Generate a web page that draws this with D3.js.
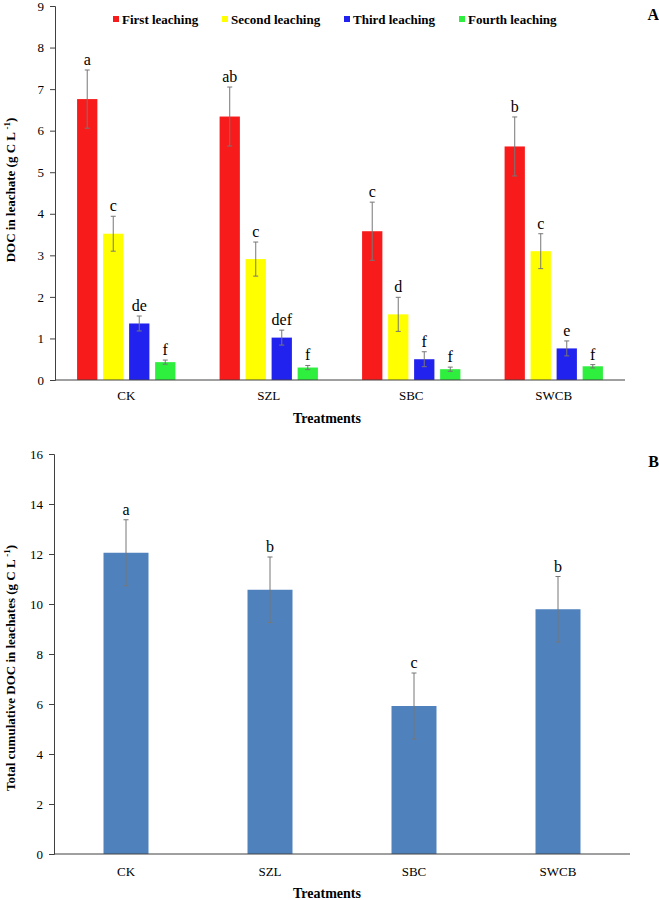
<!DOCTYPE html>
<html>
<head>
<meta charset="utf-8">
<script src="https://cdn.jsdelivr.net/npm/d3@7"></script>
<style>
  body { margin: 0; background: #fff; }
  svg { display: block; }
  svg text { font-family: "Liberation Serif", "Times New Roman", Times, "DejaVu Serif", serif !important; fill: #000; }
</style>
</head>
<body>
<svg id="chart" width="659" height="900" font-family="Liberation Serif, Times New Roman, serif"></svg>
<script>
// ---------- Data ----------
const treatments = ["CK", "SZL", "SBC", "SWCB"];
const seriesNames = ["First leaching", "Second leaching", "Third leaching", "Fourth leaching"];
const seriesColors = ["#F71B1B", "#FFFF00", "#2222EE", "#2EEE3E"];

// Panel A: DOC in leachate (g C L-1), values per series for CK, SZL, SBC, SWCB
const firstLeaching  = [6.76, 6.34, 3.58, 5.62];
const secondLeaching = [3.52, 2.91, 1.58, 3.10];
const thirdLeaching  = [1.36, 1.02, 0.50, 0.76];
const fourthLeaching = [0.43, 0.30, 0.26, 0.33];

const firstErr  = [0.70, 0.71, 0.70, 0.71];
const secondErr = [0.42, 0.41, 0.41, 0.42];
const thirdErr  = [0.18, 0.18, 0.18, 0.18];
const fourthErr = [0.05, 0.05, 0.05, 0.04];

const firstLetters  = ["a", "ab", "c", "b"];
const secondLetters = ["c", "c", "d", "c"];
const thirdLetters  = ["de", "def", "f", "e"];
const fourthLetters = ["f", "f", "f", "f"];

const yTicksA = [0, 1, 2, 3, 4, 5, 6, 7, 8, 9];

// Panel B: total cumulative DOC
const totalDOC = [12.05, 10.57, 5.92, 9.79];
const totalErr = [1.32, 1.31, 1.32, 1.31];
const totalLetters = ["a", "b", "c", "b"];
const yTicksB = [0, 2, 4, 6, 8, 10, 12, 14, 16];

const seriesValues = [firstLeaching, secondLeaching, thirdLeaching, fourthLeaching];
const seriesErrs = [firstErr, secondErr, thirdErr, fourthErr];
const seriesLetters = [firstLetters, secondLetters, thirdLetters, fourthLetters];

// ---------- Drawing ----------
const svg = d3.select("#chart");
const axisColor = "#404040";
const errColor = "#777777";
const serif = "Liberation Serif, Times New Roman, serif";

// ===== Panel A =====
const A = { left: 55, right: 625, top: 6, bottom: 380 };
const yA = d3.scaleLinear().domain([0, 9]).range([A.bottom, A.top]);
const x0A = d3.scaleBand().domain(treatments).range([A.left, A.right])
  .paddingInner(0.31).paddingOuter(0.155);
const x1A = d3.scaleBand().domain(seriesNames).range([0, x0A.bandwidth()]).paddingInner(0.22);

const gA = svg.append("g");
const yAxisA = gA.append("g").attr("transform", `translate(${A.left},0)`)
  .call(d3.axisLeft(yA).tickValues(yTicksA).tickSize(5).tickPadding(6).tickFormat(d3.format("d")));
yAxisA.attr("font-family", serif);
yAxisA.select(".domain").attr("stroke", axisColor);
yAxisA.selectAll(".tick line").attr("stroke", axisColor);
yAxisA.selectAll(".tick text").style("font-size", "13px").attr("fill", "#000");

seriesNames.forEach((s, si) => {
  const g = gA.append("g");
  treatments.forEach((t, ti) => {
    const v = seriesValues[si][ti];
    const e = seriesErrs[si][ti];
    const bx = x0A(t) + x1A(s);
    const bw = x1A.bandwidth();
    g.append("rect")
      .attr("x", bx).attr("y", yA(v))
      .attr("width", bw).attr("height", yA(0) - yA(v))
      .attr("fill", seriesColors[si]);
    const cx = bx + bw / 2;
    g.append("line").attr("x1", cx).attr("x2", cx)
      .attr("y1", yA(v + e)).attr("y2", yA(v - e))
      .attr("stroke", errColor).attr("stroke-width", 1);
    [v + e, v - e].forEach(val => {
      g.append("line").attr("x1", cx - 2.5).attr("x2", cx + 2.5)
        .attr("y1", yA(val)).attr("y2", yA(val))
        .attr("stroke", errColor).attr("stroke-width", 1);
    });
    g.append("text").attr("x", cx).attr("y", yA(v + e) - 5)
      .attr("text-anchor", "middle").style("font-size", "16px")
      .text(seriesLetters[si][ti]);
  });
});

gA.append("line").attr("x1", A.left).attr("x2", A.right)
  .attr("y1", A.bottom).attr("y2", A.bottom).attr("stroke", axisColor);
treatments.forEach(t => {
  gA.append("text").attr("x", x0A(t) + x0A.bandwidth() / 2).attr("y", 400)
    .attr("text-anchor", "middle").style("font-size", "13px").text(t);
});
gA.append("text").attr("x", 327).attr("y", 423).attr("text-anchor", "middle")
  .style("font-size", "14px").style("font-weight", "bold").text("Treatments");

const ylA = gA.append("text").attr("transform", "translate(15,190) rotate(-90)")
  .attr("text-anchor", "middle").style("font-size", "13px").style("font-weight", "bold");
ylA.append("tspan").text("DOC in leachate (g C L ");
ylA.append("tspan").attr("dy", -5).style("font-size", "9px").text("-1");
ylA.append("tspan").attr("dy", 5).text(")");

const legendX = [113, 222, 344, 459];
seriesNames.forEach((s, si) => {
  gA.append("rect").attr("x", legendX[si]).attr("y", 16).attr("width", 6).attr("height", 6)
    .attr("fill", seriesColors[si]);
  gA.append("text").attr("x", legendX[si] + 9).attr("y", 24)
    .style("font-size", "13px").style("font-weight", "bold").text(s);
});
gA.append("text").attr("x", 659).attr("y", 20).attr("text-anchor", "end")
  .style("font-size", "16px").style("font-weight", "bold").text("A");

// ===== Panel B =====
const B = { left: 54, right: 630, top: 454, bottom: 854 };
const yB = d3.scaleLinear().domain([0, 16]).range([B.bottom, B.top]);
const xB = d3.scaleBand().domain(treatments).range([B.left, B.right])
  .paddingInner(0.6875).paddingOuter(0.34375);

const gB = svg.append("g");
const yAxisB = gB.append("g").attr("transform", `translate(${B.left},0)`)
  .call(d3.axisLeft(yB).tickValues(yTicksB).tickSize(5).tickPadding(6).tickFormat(d3.format("d")));
yAxisB.attr("font-family", serif);
yAxisB.select(".domain").attr("stroke", axisColor);
yAxisB.selectAll(".tick line").attr("stroke", axisColor);
yAxisB.selectAll(".tick text").style("font-size", "13px").attr("fill", "#000");

treatments.forEach((t, ti) => {
  const v = totalDOC[ti], e = totalErr[ti];
  const bx = xB(t), bw = xB.bandwidth(), cx = bx + bw / 2;
  gB.append("rect").attr("x", bx).attr("y", yB(v))
    .attr("width", bw).attr("height", yB(0) - yB(v)).attr("fill", "#4F81BD");
  gB.append("line").attr("x1", cx).attr("x2", cx)
    .attr("y1", yB(v + e)).attr("y2", yB(v - e))
    .attr("stroke", errColor).attr("stroke-width", 1);
  [v + e, v - e].forEach(val => {
    gB.append("line").attr("x1", cx - 2.5).attr("x2", cx + 2.5)
      .attr("y1", yB(val)).attr("y2", yB(val))
      .attr("stroke", errColor).attr("stroke-width", 1);
  });
  gB.append("text").attr("x", cx).attr("y", yB(v + e) - 5)
    .attr("text-anchor", "middle").style("font-size", "16px").text(totalLetters[ti]);
});

gB.append("line").attr("x1", B.left).attr("x2", B.right)
  .attr("y1", B.bottom).attr("y2", B.bottom).attr("stroke", axisColor);
treatments.forEach(t => {
  gB.append("text").attr("x", xB(t) + xB.bandwidth() / 2).attr("y", 876)
    .attr("text-anchor", "middle").style("font-size", "13px").text(t);
});
gB.append("text").attr("x", 327).attr("y", 898).attr("text-anchor", "middle")
  .style("font-size", "14px").style("font-weight", "bold").text("Treatments");

const ylB = gB.append("text").attr("transform", "translate(15,668) rotate(-90)")
  .attr("text-anchor", "middle").style("font-size", "13px").style("font-weight", "bold");
ylB.append("tspan").text("Total cumulative DOC in leachates (g C L ");
ylB.append("tspan").attr("dy", -5).style("font-size", "9px").text("-1");
ylB.append("tspan").attr("dy", 5).text(")");

gB.append("text").attr("x", 659).attr("y", 467).attr("text-anchor", "end")
  .style("font-size", "16px").style("font-weight", "bold").text("B");
</script>
</body>
</html>
